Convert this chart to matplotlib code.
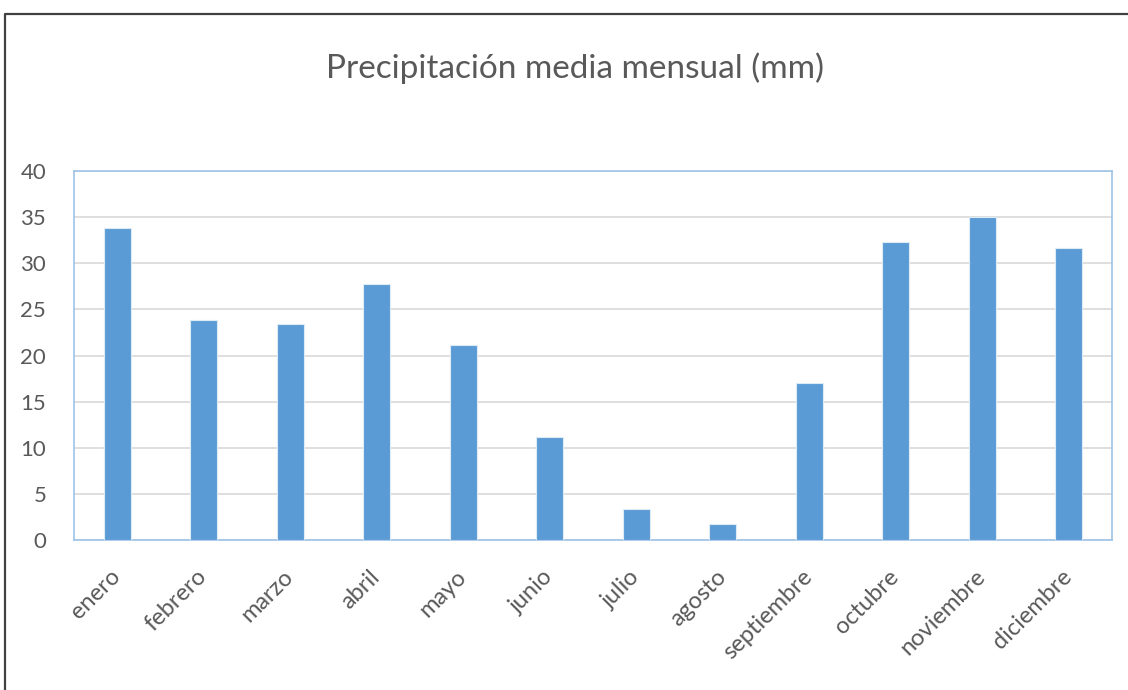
import matplotlib
matplotlib.use("Agg")
import matplotlib.pyplot as plt
from matplotlib.lines import Line2D
import numpy as np

months = ["enero", "febrero", "marzo", "abril", "mayo", "junio", "julio",
          "agosto", "septiembre", "octubre", "noviembre", "diciembre"]
precip = [33.8, 23.8, 23.4, 27.7, 21.1, 11.2, 3.4, 1.7, 17.0, 32.3, 35.0, 31.6]
yticks = [0, 5, 10, 15, 20, 25, 30, 35, 40]
title = "Precipitación media mensual (mm)"

W, H = 1128, 690
fig = plt.figure(figsize=(W / 100, H / 100), dpi=100)
fig.patch.set_facecolor("white")
plt.rcParams['font.family'] = ['Lato', 'DejaVu Sans']

ax = fig.add_axes([74 / W, 1 - 540 / H, (1112 - 74) / W, (540 - 171) / H])
x = np.arange(len(months))
ax.bar(x, precip, width=0.31, color="#5B9BD5", edgecolor="#DDEBF7",
       linewidth=0.8, zorder=3)
ax.set_xlim(-0.5, len(months) - 0.5)
ax.set_ylim(0, 40)
ax.set_yticks(yticks)
ax.set_yticklabels([str(v) for v in yticks])
ax.set_xticks(x)
ax.set_xticklabels(months, rotation=45, ha="right", va="center",
                   rotation_mode="anchor")
ax.tick_params(axis="both", length=0, colors="#595959")
ax.tick_params(axis="y", pad=20, labelsize=16)
ax.tick_params(axis="x", pad=24, labelsize=17)
ax.grid(axis="y", color="#D9D9D9", linewidth=1.2, zorder=0)
for s in ax.spines.values():
    s.set_color("#9DC3E6")
    s.set_linewidth(1.2)

fig.text(575 / W, 1 - 68 / H, title, ha="center", va="center",
         fontsize=24, color="#595959")

# outer chart border (top and left edges visible)
fig.add_artist(Line2D([5 / W, 5 / W, 1.0], [0.0, 1 - 14 / H, 1 - 14 / H],
                      transform=fig.transFigure, color="#404040", linewidth=1.6))

fig.savefig("out.png", dpi=100, facecolor="white")
